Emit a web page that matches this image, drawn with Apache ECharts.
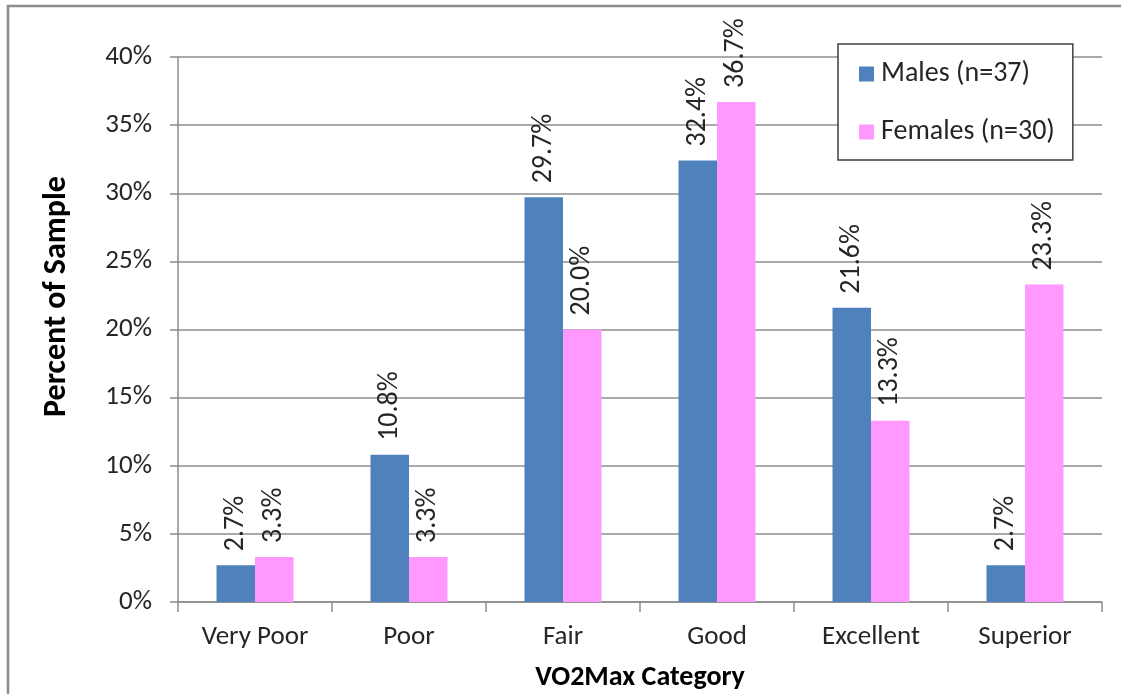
<!DOCTYPE html>
<html>
<head>
<meta charset="utf-8">
<script src="https://cdn.jsdelivr.net/npm/echarts@6/dist/echarts.min.js"></script>
<style>
  html, body { margin: 0; padding: 0; background: #fff; }
  #chart { width: 1121px; height: 694px; }
</style>
</head>
<body>
<div id="chart"></div>
<script>
// VO2Max fitness categories and share of each sample (percent)
const categories = ['Very Poor', 'Poor', 'Fair', 'Good', 'Excellent', 'Superior'];
const malesLabel = 'Males (n=37)';
const femalesLabel = 'Females (n=30)';
const males = [2.7, 10.8, 29.7, 32.4, 21.6, 2.7];
const females = [3.3, 3.3, 20.0, 36.7, 13.3, 23.3];
const yTicks = { min: 0, max: 40, interval: 5 };

const FONT = 'Carlito, Lato, sans-serif';
const TEXT = '#262626';

const chart = echarts.init(document.getElementById('chart'), null, { renderer: 'canvas' });

const barLabel = {
  show: true,
  position: 'top',
  rotate: 90,
  align: 'left',
  verticalAlign: 'middle',
  distance: 14,
  fontFamily: FONT,
  fontSize: 28,
  color: TEXT,
  formatter: p => p.value.toFixed(1) + '%'
};

chart.setOption({
  animation: false,
  backgroundColor: '#fff',
  graphic: [{
    type: 'rect',
    shape: { x: 8, y: 6, width: 1300, height: 900 },
    style: { fill: 'none', stroke: '#8c8c8c', lineWidth: 2.5 },
    silent: true,
    z: 100
  }],
  grid: { left: 178, right: 19, top: 57, bottom: 92, outerBoundsMode: 'none', containLabel: false },
  legend: {
    orient: 'vertical',
    left: 838,
    top: 44,
    data: [malesLabel, femalesLabel],
    icon: 'rect',
    itemWidth: 15,
    itemHeight: 15,
    itemGap: 30,
    padding: [16, 18, 14, 21],
    borderColor: '#404040',
    borderWidth: 1.5,
    backgroundColor: '#fff',
    textStyle: { fontFamily: FONT, fontSize: 28, color: TEXT, lineHeight: 28, padding: [0, 0, 0, 2] }
  },
  xAxis: {
    type: 'category',
    data: categories,
    name: 'VO2Max Category',
    nameLocation: 'middle',
    nameGap: 62,
    nameTextStyle: { fontFamily: FONT, fontSize: 28, fontWeight: 'bold', color: '#000' },
    axisLine: { lineStyle: { color: '#8c8c8c', width: 1.5 } },
    axisTick: { show: true, length: 10, lineStyle: { color: '#8c8c8c', width: 1.5 } },
    axisLabel: { fontFamily: FONT, fontSize: 27, color: TEXT, margin: 22 }
  },
  yAxis: {
    type: 'value',
    min: yTicks.min,
    max: yTicks.max,
    interval: yTicks.interval,
    name: 'Percent of Sample',
    nameLocation: 'middle',
    nameGap: 105,
    nameTextStyle: { fontFamily: FONT, fontSize: 32, fontWeight: 'bold', color: '#000', padding: [0, 0, 0, 66] },
    axisLine: { show: true, lineStyle: { color: '#8c8c8c', width: 1.5 } },
    axisTick: { show: true, length: 8, lineStyle: { color: '#8c8c8c', width: 1.5 } },
    axisLabel: { fontFamily: FONT, fontSize: 27, color: TEXT, margin: 26, formatter: v => v + '%' },
    splitLine: { show: true, lineStyle: { color: '#8c8c8c', width: 1.5 } }
  },
  series: [
    {
      name: malesLabel,
      type: 'bar',
      data: males,
      barGap: '0%',
      barCategoryGap: '50%',
      itemStyle: { color: '#4f81bd' },
      label: barLabel
    },
    {
      name: femalesLabel,
      type: 'bar',
      data: females,
      itemStyle: { color: '#ff99ff' },
      label: barLabel
    }
  ]
});
</script>
</body>
</html>
